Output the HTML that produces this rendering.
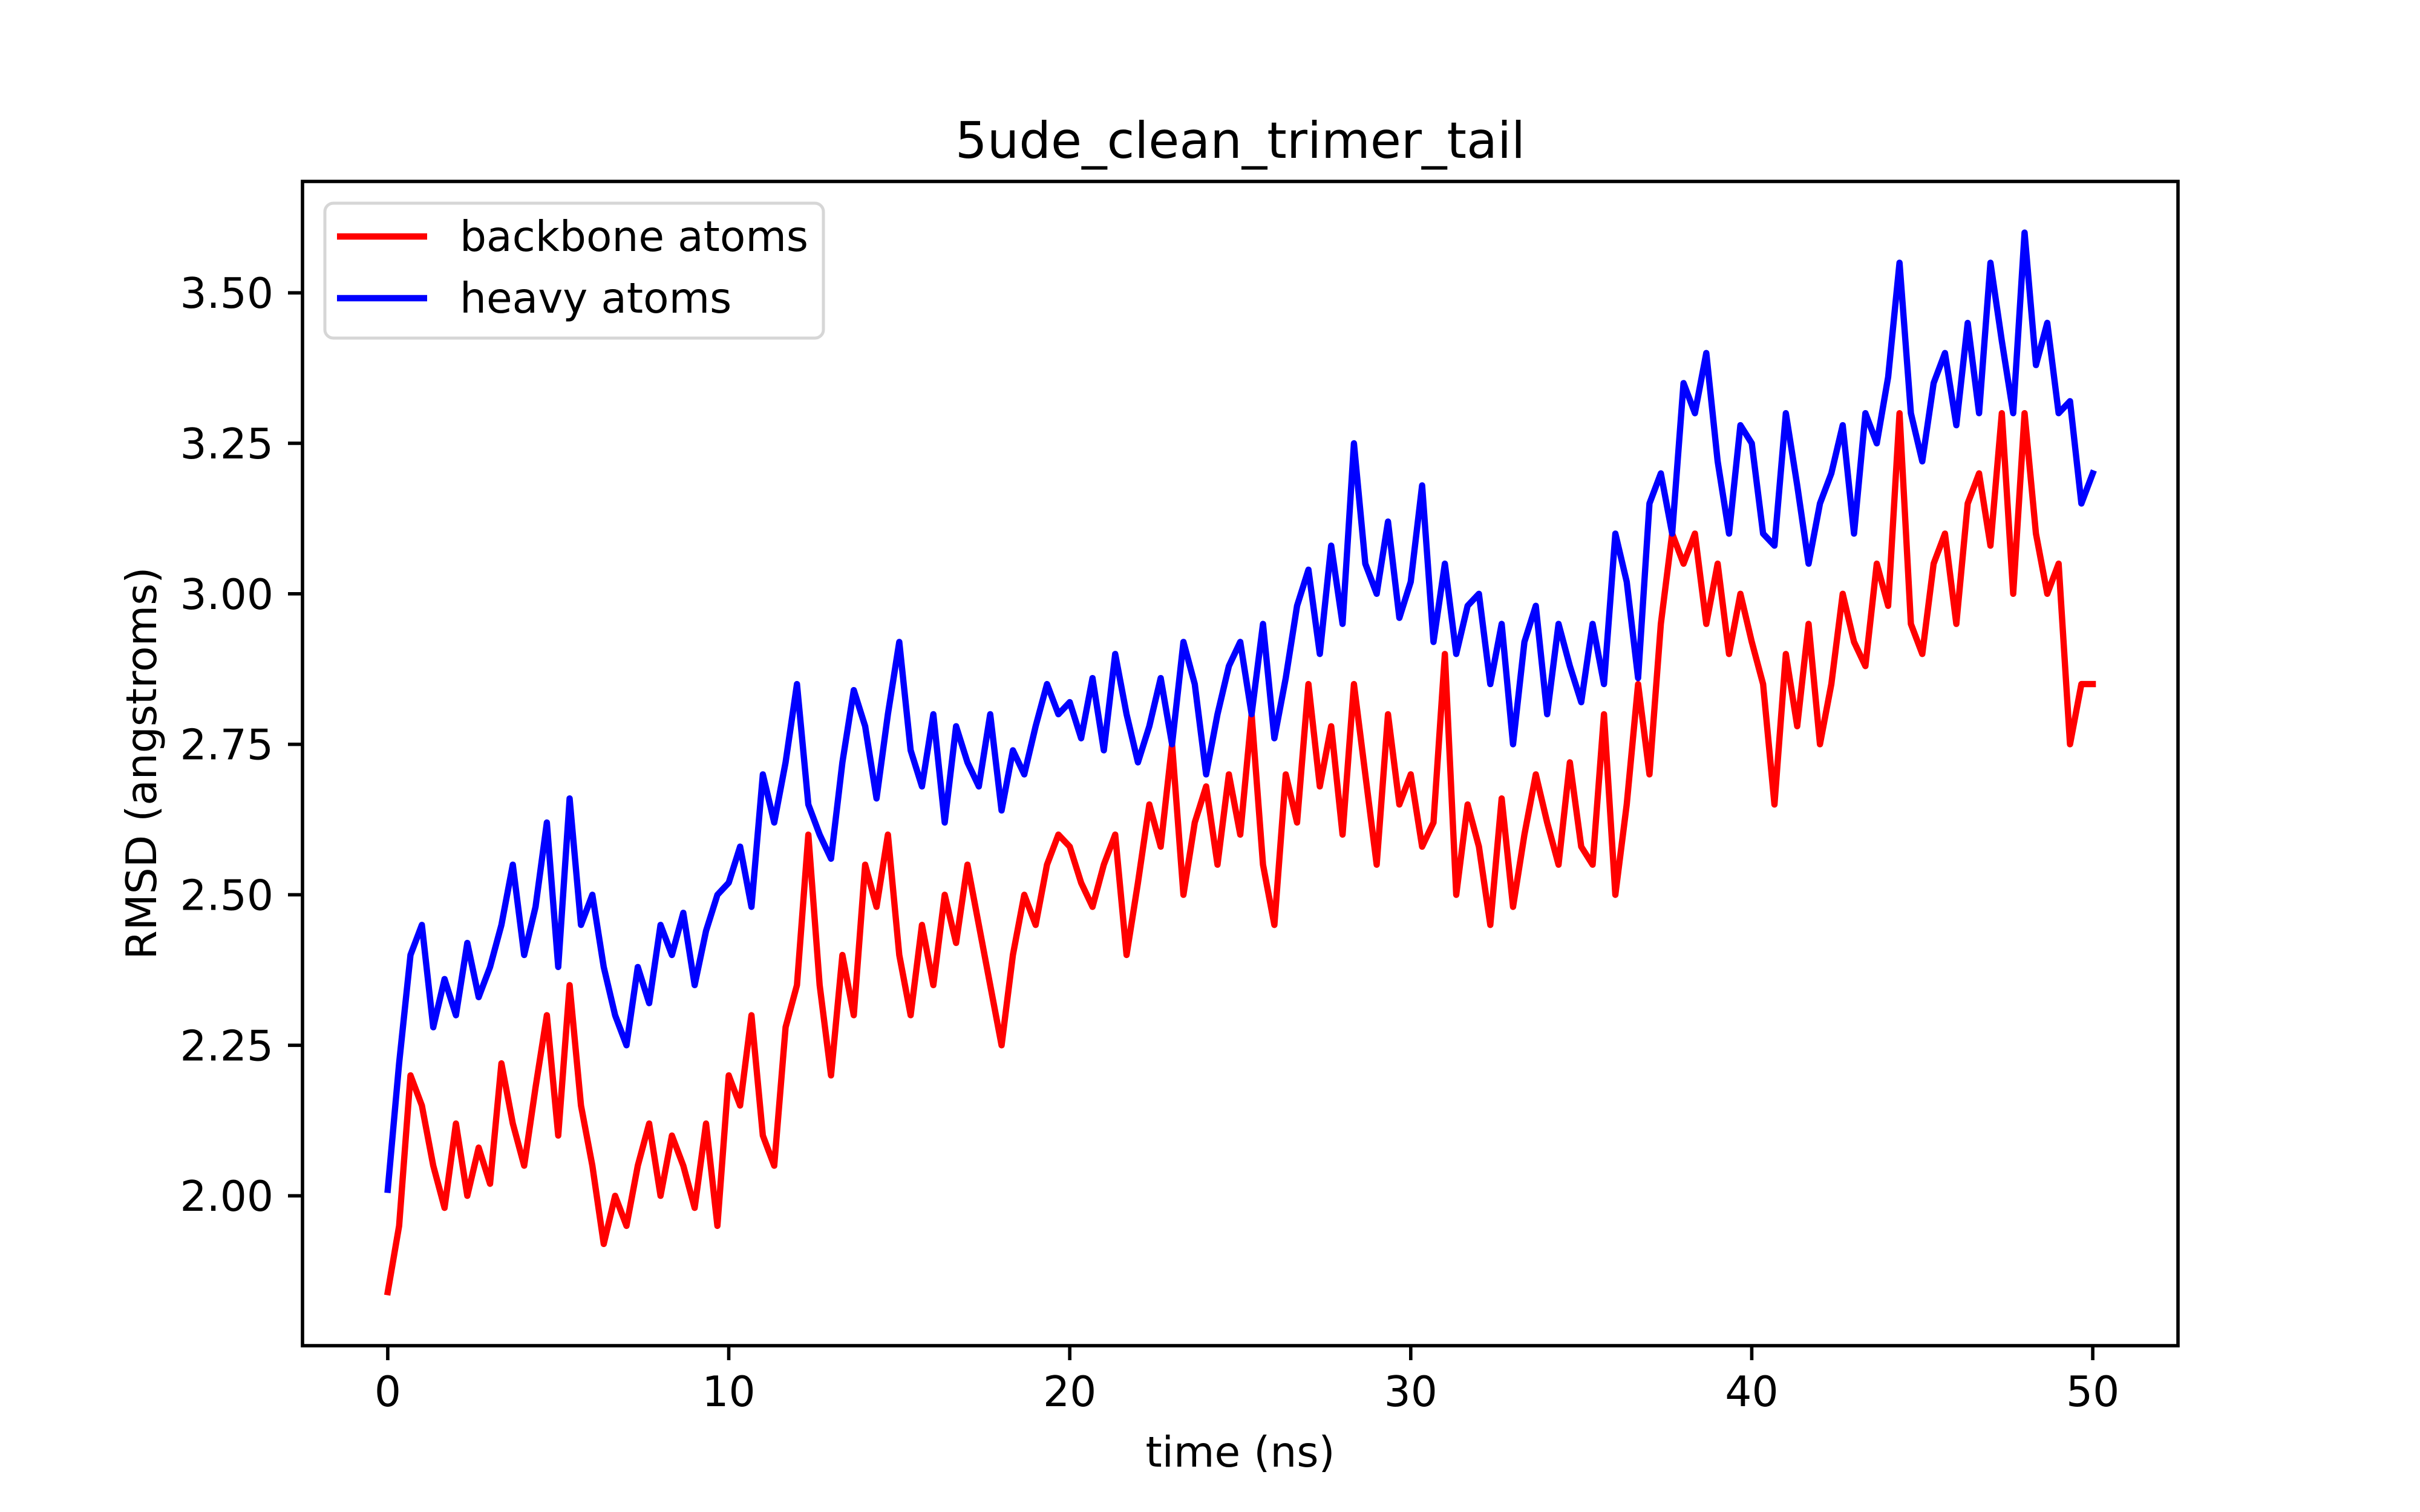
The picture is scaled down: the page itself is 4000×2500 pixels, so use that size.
<!DOCTYPE html>
<html><head><meta charset="utf-8"><style>
html,body{margin:0;padding:0;background:#fff;}
svg{display:block;font-family:"DejaVu Sans","Liberation Sans",sans-serif;}
</style></head><body>
<svg id="chart" width="4000" height="2500" viewBox="0 0 4000 2500" xmlns="http://www.w3.org/2000/svg">
<rect width="4000" height="2500" fill="#fff"/>
<g id="plot"></g>
<g id="axes"></g>
<text x="2050" y="261" font-size="83" text-anchor="middle">5ude_clean_trimer_tail</text>
<text x="2050" y="2425" font-size="69.4" text-anchor="middle">time (ns)</text>
<text x="0" y="0" font-size="69.4" text-anchor="middle" transform="translate(258,1262) rotate(-90)">RMSD (angstroms)</text>
<g>
<rect x="537" y="336" width="824" height="223" rx="14" fill="#fff" fill-opacity="0.8" stroke="#d6d6d6" stroke-width="5"/>
<line x1="557" y1="391" x2="706" y2="391" stroke="#ff0000" stroke-width="10.4"/>
<text x="760" y="415" font-size="69.4">backbone atoms</text>
<line x1="557" y1="493" x2="706" y2="493" stroke="#0000ff" stroke-width="10.4"/>
<text x="760" y="517" font-size="69.4">heavy atoms</text>
</g>
</svg>
<script>
const xTicks = [0, 10, 20, 30, 40, 50];
const yTicks = [2.00, 2.25, 2.50, 2.75, 3.00, 3.25, 3.50];
const yTickLabels = ["2.00", "2.25", "2.50", "2.75", "3.00", "3.25", "3.50"];
const heavy = [2.01,2.22,2.40,2.45,2.28,2.36,2.30,2.42,2.33,2.38,2.45,2.55,2.40,2.48,2.62,2.38,
2.66,2.45,2.50,2.38,2.30,2.25,2.38,2.32,2.45,2.40,2.47,2.35,2.44,2.50,
2.52,2.58,2.48,2.70,2.62,2.72,2.85,2.65,2.60,2.56,2.72,2.84,2.78,2.66,2.80,2.92,
2.74,2.68,2.80,2.62,2.78,2.72,2.68,2.80,2.64,2.74,2.70,2.78,2.85,2.80,
2.82,2.76,2.86,2.74,2.90,2.80,2.72,2.78,2.86,2.75,2.92,2.85,2.70,2.80,2.88,2.92,
2.80,2.95,2.76,2.86,2.98,3.04,2.90,3.08,2.95,3.25,3.05,3.00,3.12,2.96,
3.02,3.18,2.92,3.05,2.90,2.98,3.00,2.85,2.95,2.75,2.92,2.98,2.80,2.95,2.88,2.82,
2.95,2.85,3.10,3.02,2.86,3.15,3.20,3.10,3.35,3.30,3.40,3.22,3.10,3.28,
3.25,3.10,3.08,3.30,3.18,3.05,3.15,3.20,3.28,3.10,3.30,3.25,3.36,3.55,3.30,3.22,
3.35,3.40,3.28,3.45,3.30,3.55,3.42,3.30,3.60,3.38,3.45,3.30,3.32,3.15,3.20];
const backbone = [1.84,1.95,2.20,2.15,2.05,1.98,2.12,2.00,2.08,2.02,2.22,2.12,2.05,2.18,2.30,2.10,
2.35,2.15,2.05,1.92,2.00,1.95,2.05,2.12,2.00,2.10,2.05,1.98,2.12,1.95,
2.20,2.15,2.30,2.10,2.05,2.28,2.35,2.60,2.35,2.20,2.40,2.30,2.55,2.48,2.60,2.40,
2.30,2.45,2.35,2.50,2.42,2.55,2.45,2.35,2.25,2.40,2.50,2.45,2.55,2.60,
2.58,2.52,2.48,2.55,2.60,2.40,2.52,2.65,2.58,2.75,2.50,2.62,2.68,2.55,2.70,2.60,
2.80,2.55,2.45,2.70,2.62,2.85,2.68,2.78,2.60,2.85,2.70,2.55,2.80,2.65,
2.70,2.58,2.62,2.90,2.50,2.65,2.58,2.45,2.66,2.48,2.60,2.70,2.62,2.55,2.72,2.58,
2.55,2.80,2.50,2.65,2.85,2.70,2.95,3.10,3.05,3.10,2.95,3.05,2.90,3.00,
2.92,2.85,2.65,2.90,2.78,2.95,2.75,2.85,3.00,2.92,2.88,3.05,2.98,3.30,2.95,2.90,
3.05,3.10,2.95,3.15,3.20,3.08,3.30,3.00,3.30,3.10,3.00,3.05,2.75,2.85,2.85];
const tMax = 50;

const NS = "http://www.w3.org/2000/svg";
const L = 500, R = 3600, T = 300, B = 2225;
const xMin = -2.5, xMax = 52.5, yMin = 1.751, yMax = 3.685;
function xs(v){ return L + (v - xMin) / (xMax - xMin) * (R - L); }
function ys(v){ return B - (v - yMin) / (yMax - yMin) * (B - T); }
function mk(tag, attrs, parent){ const e = document.createElementNS(NS, tag); for (const k in attrs) e.setAttribute(k, attrs[k]); parent.appendChild(e); return e; }

const plot = document.getElementById('plot');
function series(data, color, name){
  const n = data.length;
  const pts = data.map((v, i) => xs(i * tMax / (n - 1)).toFixed(1) + ',' + ys(v).toFixed(1)).join(' ');
  const p = mk('polyline', {points: pts, fill: 'none', stroke: color, 'stroke-width': 10.4, 'stroke-linejoin': 'round', 'stroke-linecap': 'square'}, plot);
  
  
}
series(backbone, '#ff0000', 'backbone-line');
series(heavy, '#0000ff', 'heavy-line');

const axes = document.getElementById('axes');
const frame = mk('rect', {x: L, y: T, width: R - L, height: B - T, fill: 'none', stroke: '#000', 'stroke-width': 5.6}, axes);


xTicks.forEach(v => {
  const x = xs(v);
  const t = mk('line', {x1: x, y1: B, x2: x, y2: B + 24, stroke: '#000', 'stroke-width': 5.6}, axes);
  
  
  const l = mk('text', {x: x, y: B + 24 + 24 + 52, 'font-size': 69.4, 'text-anchor': 'middle'}, axes);
  l.textContent = String(v);
  
  
});
yTicks.forEach((v, i) => {
  const y = ys(v);
  const t = mk('line', {x1: L - 24, y1: y, x2: L, y2: y, stroke: '#000', 'stroke-width': 5.6}, axes);
  
  
  const l = mk('text', {x: L - 48, y: y + 25, 'font-size': 69.4, 'text-anchor': 'end'}, axes);
  l.textContent = yTickLabels[i];
  
  
});
</script>
</body></html>
